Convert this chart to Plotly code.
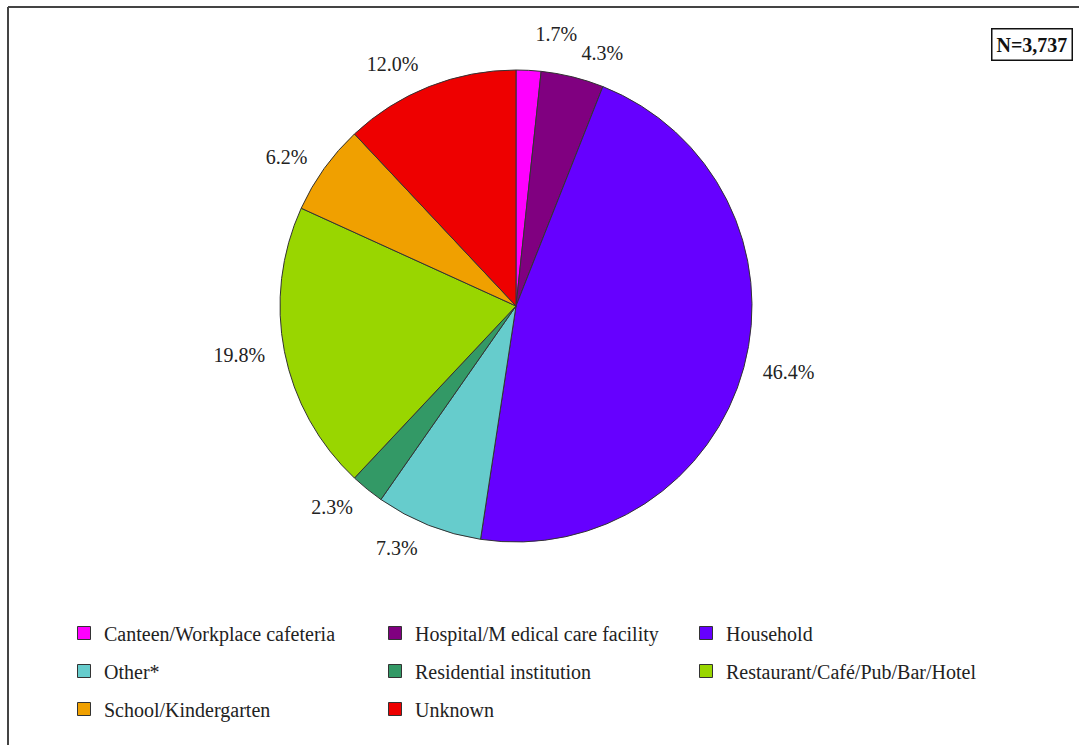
import plotly.graph_objects as go

labels = ["Canteen/Workplace cafeteria", "Hospital/M edical care facility", "Household",
          "Other*", "Residential institution", "Restaurant/Café/Pub/Bar/Hotel",
          "School/Kindergarten", "Unknown"]
values = [1.7, 4.3, 46.4, 7.3, 2.3, 19.8, 6.2, 12.0]
colors = ["#FF00FF", "#800080", "#6600FF", "#66CCCC", "#339966", "#99D600", "#F0A000", "#EE0000"]
legend_rows = [[0, 1, 2], [3, 4, 5], [6, 7]]
# which label ring carries each percentage label (0 = on the pie itself)
label_ring = [2, 1, 1, 1, 1, 1, 1, 1]

W, H = 1079, 745
FONT = "Liberation Serif"
CX, CY, R = 516, 306, 236
RING_R = [R, 250, 261]

fmt = "%{value:.1f}%"

def dom(r):
    return dict(x=[(CX - r) / W, (CX + r) / W], y=[1 - (CY + r) / H, 1 - (CY - r) / H])

fig = go.Figure()
fig.add_trace(go.Pie(
    labels=labels, values=values, sort=False, direction="clockwise", rotation=0,
    marker=dict(colors=colors, line=dict(color="#333333", width=1)),
    texttemplate=[fmt if g == 0 else "" for g in label_ring], textposition="outside",
    outsidetextfont=dict(family=FONT, size=20, color="#222222"),
    domain=dom(RING_R[0]), showlegend=False, hoverinfo="label+percent",
))
# transparent companion pies that only carry percentage labels further out
for g in range(1, len(RING_R)):
    fig.add_trace(go.Pie(
        labels=labels, values=values, sort=False, direction="clockwise", rotation=0,
        marker=dict(colors=["rgba(0,0,0,0)"] * len(values), line=dict(width=0)),
        texttemplate=[fmt if k == g else "" for k in label_ring], textposition="outside",
        outsidetextfont=dict(family=FONT, size=20, color="#222222"),
        domain=dom(RING_R[g]), showlegend=False, hoverinfo="skip",
    ))

legend_names = ["legend", "legend2", "legend3"]
row_y = [633, 671, 709]
for r, idxs in enumerate(legend_rows):
    for i in idxs:
        fig.add_trace(go.Scatter(
            x=[None], y=[None], mode="markers", name=labels[i],
            marker=dict(symbol="square", size=13, color=colors[i],
                        line=dict(color="#333333", width=1)),
            legend=legend_names[r], showlegend=True, hoverinfo="skip",
        ))

legend_common = dict(orientation="h", xanchor="left", yanchor="middle",
                     x=64 / W, entrywidth=266, entrywidthmode="pixels",
                     font=dict(family=FONT, size=20, color="#222222"),
                     bgcolor="rgba(0,0,0,0)", itemclick=False, itemdoubleclick=False)

fig.update_layout(
    width=W, height=H, margin=dict(l=0, r=0, t=0, b=0),
    paper_bgcolor="white", plot_bgcolor="white",
    xaxis=dict(visible=False), yaxis=dict(visible=False),
    legend=dict(**legend_common, y=1 - row_y[0] / H),
    legend2=dict(**legend_common, y=1 - row_y[1] / H),
    legend3=dict(**legend_common, y=1 - row_y[2] / H),
    annotations=[dict(
        text="<b>N=3,737</b>", xref="paper", yref="paper",
        x=1032 / W, y=1 - 44 / H, xanchor="center", yanchor="middle",
        showarrow=False, font=dict(family=FONT, size=20, color="#111111"),
        bordercolor="#111111", borderwidth=1.5, borderpad=4, bgcolor="white",
    )],
    shapes=[
        dict(type="line", xref="paper", yref="paper", x0=8 / W, x1=1.02, y0=1 - 7 / H, y1=1 - 7 / H,
             line=dict(color="#444444", width=2)),
        dict(type="line", xref="paper", yref="paper", x0=8 / W, x1=8 / W, y0=1 - 7 / H, y1=-0.02,
             line=dict(color="#444444", width=2)),
    ],
)

fig.write_html("out.html")
